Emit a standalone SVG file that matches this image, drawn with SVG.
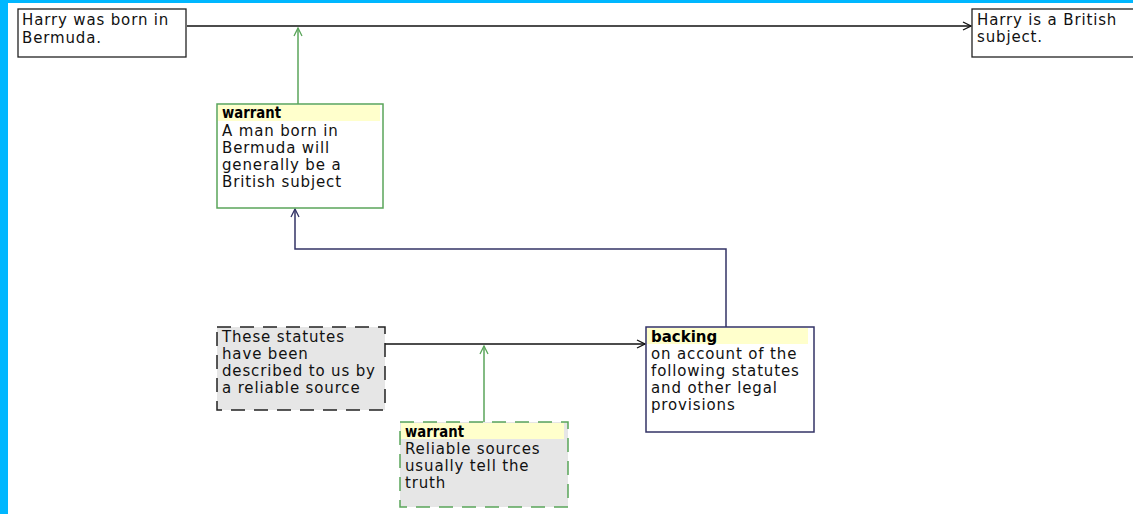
<svg xmlns="http://www.w3.org/2000/svg" width="1133" height="514" viewBox="0 0 1133 514">
<defs>
<style>
.t{font-family:"DejaVu Sans",sans-serif;font-size:15px;fill:#111;letter-spacing:0.85px}
.b{font-family:"DejaVu Sans",sans-serif;font-size:15px;font-weight:bold;fill:#000}
.box{fill:#fff;stroke:#222;stroke-width:1.3}
.grey{fill:#e6e6e6}
.hdr{fill:#ffffcc}
.blk{fill:none;stroke:#111;stroke-width:1.3}
.grn{fill:none;stroke:#5aa55a;stroke-width:1.5}
.nav{fill:none;stroke:#333366;stroke-width:1.5}
</style>
<marker id="ab" viewBox="0 0 10 10" refX="9" refY="5" markerWidth="10" markerHeight="10" markerUnits="userSpaceOnUse" orient="auto"><path d="M1,1 L9,5 L1,9" fill="none" stroke="#111" stroke-width="1.3"/></marker>
<marker id="ag" viewBox="0 0 10 10" refX="9" refY="5" markerWidth="10" markerHeight="10" markerUnits="userSpaceOnUse" orient="auto"><path d="M1,1 L9,5 L1,9" fill="none" stroke="#5aa55a" stroke-width="1.3"/></marker>
<marker id="an" viewBox="0 0 10 10" refX="9" refY="5" markerWidth="10" markerHeight="10" markerUnits="userSpaceOnUse" orient="auto"><path d="M1,1 L9,5 L1,9" fill="none" stroke="#333366" stroke-width="1.3"/></marker>
</defs>
<rect x="0" y="0" width="1133" height="514" fill="#00b7ff"/>
<rect x="8" y="3" width="1125" height="511" fill="#ffffff"/>
<g id="connectors">
<path class="blk" d="M187,26 L971,26" marker-end="url(#ab)"/>
<path class="grn" d="M298,104 L298,28" marker-end="url(#ag)"/>
<path class="nav" d="M726,327 L726,249 L295,249 L295,209" marker-end="url(#an)"/>
<path class="blk" d="M385,344 L645,344" marker-end="url(#ab)"/>
<path class="grn" d="M484,422 L484,346" marker-end="url(#ag)"/>
</g>
<g id="n-born">
<rect class="box" x="18" y="9" width="168" height="48"/>
<text class="t" x="22" y="25">Harry was born in</text>
<text class="t" x="22" y="43">Bermuda.</text>
</g>
<g id="n-subject">
<rect class="box" x="972" y="9" width="170" height="48"/>
<text class="t" x="977" y="25">Harry is a British</text>
<text class="t" x="977" y="42">subject.</text>
</g>
<g id="n-warrant1">
<rect x="217" y="104" width="166" height="104" fill="#fff" stroke="#5aa55a" stroke-width="1.5"/>
<rect class="hdr" x="218" y="105" width="162" height="16"/>
<text class="b" x="222" y="118" textLength="59" lengthAdjust="spacingAndGlyphs">warrant</text>
<text class="t" x="222" y="136">A man born in</text>
<text class="t" x="222" y="153">Bermuda will</text>
<text class="t" x="222" y="170">generally be a</text>
<text class="t" x="222" y="187">British subject</text>
</g>
<g id="n-statutes">
<rect class="grey" x="217" y="327" width="168" height="83" stroke="#222" stroke-width="1.5" stroke-dasharray="14,9"/>
<text class="t" x="222" y="342">These statutes</text>
<text class="t" x="222" y="359">have been</text>
<text class="t" x="222" y="376">described to us by</text>
<text class="t" x="222" y="393">a reliable source</text>
</g>
<g id="n-backing">
<rect x="646" y="327" width="168" height="105" fill="#fff" stroke="#333366" stroke-width="1.5"/>
<rect class="hdr" x="647" y="328" width="161" height="16"/>
<text class="b" x="651" y="342">backing</text>
<text class="t" x="651" y="359">on account of the</text>
<text class="t" x="651" y="376">following statutes</text>
<text class="t" x="651" y="393">and other legal</text>
<text class="t" x="651" y="410">provisions</text>
</g>
<g id="n-warrant2">
<rect class="grey" x="400" y="422" width="168" height="85" stroke="#5aa55a" stroke-width="1.5" stroke-dasharray="14,9"/>
<rect class="hdr" x="401" y="423" width="163" height="16"/>
<text class="b" x="405" y="437" textLength="59" lengthAdjust="spacingAndGlyphs">warrant</text>
<text class="t" x="405" y="454">Reliable sources</text>
<text class="t" x="405" y="471">usually tell the</text>
<text class="t" x="405" y="488">truth</text>
</g>
</svg>
